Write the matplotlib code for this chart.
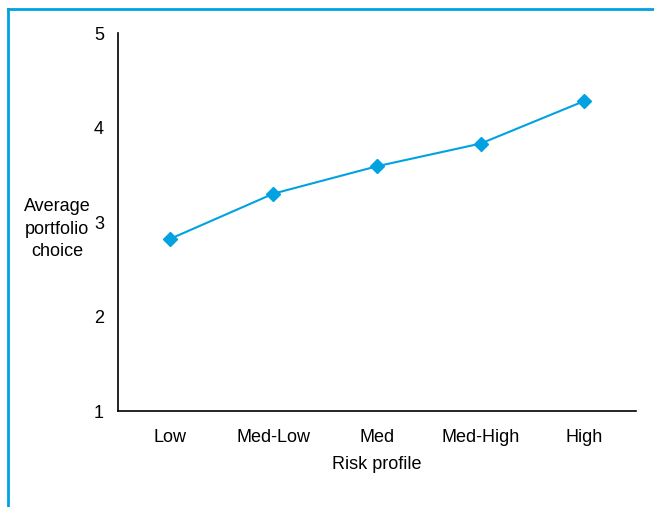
import matplotlib
matplotlib.use("Agg")
import matplotlib.pyplot as plt
from matplotlib.lines import Line2D

# data
risk_profiles = ["Low", "Med-Low", "Med", "Med-High", "High"]
avg_choice = [2.82, 3.30, 3.59, 3.83, 4.28]
y_ticks = [1, 2, 3, 4, 5]

blue = "#00A2E0"

plt.rcParams["font.family"] = ["Liberation Sans", "DejaVu Sans"]
plt.rcParams["font.size"] = 13

fig = plt.figure(figsize=(6.54, 5.07), dpi=100)
ax = fig.add_axes([0.1804, 0.1893, 0.7921, 0.7456])

x = list(range(len(risk_profiles)))
ax.plot(x, avg_choice, color=blue, linewidth=1.5, marker="D", markersize=7,
        markeredgecolor=blue, markerfacecolor=blue)

ax.set_xlim(-0.5, len(risk_profiles) - 0.5)
ax.set_ylim(1, 5)
ax.set_xticks(x)
ax.set_xticklabels(risk_profiles)
ax.set_yticks(y_ticks)

ax.spines["top"].set_visible(False)
ax.spines["right"].set_visible(False)
ax.spines["left"].set_linewidth(1.2)
ax.spines["bottom"].set_linewidth(1.2)
ax.tick_params(axis="x", length=0, pad=13)
ax.tick_params(axis="y", length=0, pad=10)

ax.set_xlabel("Risk profile", labelpad=7)

# horizontal y label on the left
fig.text(57 / 654, 1 - 229 / 507, "Average\nportfolio\nchoice", ha="center", va="center",
         multialignment="center", linespacing=1.45)

# blue frame on top and left edges
fig.add_artist(Line2D([8 / 654, 1.0], [1 - 9 / 507, 1 - 9 / 507], color=blue, linewidth=2,
                      transform=fig.transFigure))
fig.add_artist(Line2D([8 / 654, 8 / 654], [0.0, 1 - 9 / 507], color=blue, linewidth=2,
                      transform=fig.transFigure))

fig.savefig("out.png", dpi=100)
